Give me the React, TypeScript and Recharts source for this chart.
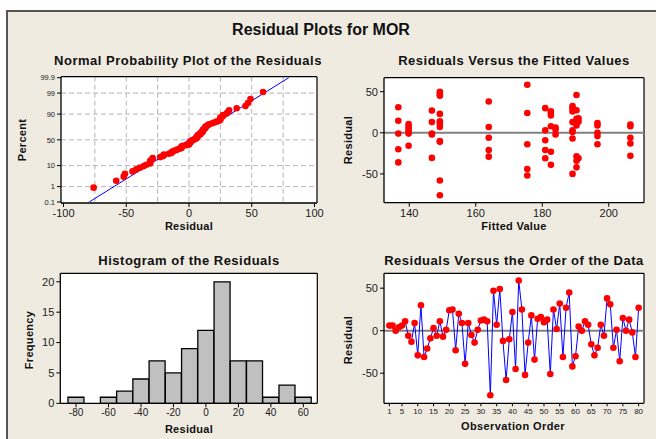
import React from 'react';
import { ComposedChart, Scatter, Line, Bar, XAxis, YAxis, ReferenceLine, CartesianGrid } from 'recharts';

// ---- data ----
const residuals = [
  6, 6, 0, 4, 6, 11, -6, -13, 9, -29,
  30, -31, -21, -9, 3, -6, 11, -7, 1, 24,
  25, -23, 20, 9, -39, 9, -5, -14, 1, 12,
  13, 11, -76, 47, 7, 49, -12, -58, -10, 22,
  -45, 59, 25, -52, -14, 18, -34, 14, 16, 10,
  13, -51, 25, 2, 32, -31, 27, 45, -42, -30,
  5, 0, 11, 7, -16, -29, -20, 7, -6, 38,
  31, -20, 1, -36, 15, 0, 13, -2, -31, 27,
];

const fittedValues = [
  136.7, 136.7, 136.7, 136.7, 136.7,
  139.8, 139.8, 139.8, 139.8, 139.8, 139.8,
  146.8, 146.8, 146.8, 146.8, 146.8,
  149.2, 149.2, 149.2, 149.2, 149.2, 149.2, 149.2, 149.2, 149.2, 149.2, 149.2,
  163.9, 163.9, 163.9, 163.9, 163.9,
  175.5, 175.5, 175.5, 175.5, 175.5,
  180.9, 180.9, 180.9, 180.9, 180.9,
  182.6, 182.6, 182.6, 182.6, 182.6, 182.6,
  184.0, 184.0, 184.0,
  189.1, 189.1, 189.1, 189.1, 189.1, 189.1, 189.1, 189.1,
  190.3, 190.3, 190.3, 190.3, 190.3, 190.3, 190.3, 190.3,
  190.9, 190.9, 190.9,
  196.6, 196.6, 196.6, 196.6, 196.6,
  206.5, 206.5, 206.5, 206.5, 206.5,
];
const fittedResiduals = [
  31, 14.6, -1, -20, -36,
  10.6, 7.5, 5, 2, -1, -15.7,
  27, 13, -1, -2, -30.5,
  50, 47, 45, 23, 14, 11, 7, -10, -11, -58, -76,
  38, 7, -6, -21, -29,
  58.5, 24, -14, -44, -52,
  30, 3, -9, -21, -31,
  26, 24, 21, 8, -23, -39,
  6.5, 4, -2,
  32.5, 30, 26, 13, 3, 1, -7, -50,
  46, 27.5, 17, 12.5, 9, -28.5, -34, -42,
  17.5, 13.5, -31,
  12, 9, 0, -4, -14,
  10, 8, -6, -13, -28,
];

const histBins = [-80, -70, -60, -50, -40, -30, -20, -10, 0, 10, 20, 30, 40, 50, 60];
const histCounts = [1, 0, 1, 2, 4, 7, 5, 9, 12, 20, 7, 7, 1, 3, 1];

const probTicks = [0.1, 1, 10, 50, 90, 99, 99.9];
const probGridX = [-75, -50, -25, 0, 25, 50, 75];
const probGridP = [1, 10, 50, 90, 99];
const probXTicks = [-100, -50, 0, 50, 100];
const fitLineX = [-79.5, 79.5];
const fitLineP = [0.1, 99.9];

const fittedXTicks = [140, 160, 180, 200];
const residTicks = [-50, 0, 50];
const histXTicks = [-80, -60, -40, -20, 0, 20, 40, 60];
const histYTicks = [0, 5, 10, 15, 20];
const orderTicks = [1, 5, 10, 15, 20, 25, 30, 35, 40, 45, 50, 55, 60, 65, 70, 75, 80];

// ---- probability scale transform ----
function probit(p: number): number {
  const a = [-3.969683028665376e1, 2.209460984245205e2, -2.759285104469687e2, 1.38357751867269e2, -3.066479806614716e1, 2.506628277459239];
  const b = [-5.447609879822406e1, 1.615858368580409e2, -1.556989798598866e2, 6.680131188771972e1, -1.328068155288572e1];
  const c = [-7.784894002430293e-3, -3.223964580411365e-1, -2.400758277161838, -2.549732539343734, 4.374664141464968, 2.938163982698783];
  const d = [7.784695709041462e-3, 3.224671290700398e-1, 2.445134137142996, 3.754408661907416];
  const pl = 0.02425;
  if (p < pl) {
    const q = Math.sqrt(-2 * Math.log(p));
    return (((((c[0] * q + c[1]) * q + c[2]) * q + c[3]) * q + c[4]) * q + c[5]) / ((((d[0] * q + d[1]) * q + d[2]) * q + d[3]) * q + 1);
  }
  if (p > 1 - pl) {
    const q = Math.sqrt(-2 * Math.log(1 - p));
    return -(((((c[0] * q + c[1]) * q + c[2]) * q + c[3]) * q + c[4]) * q + c[5]) / ((((d[0] * q + d[1]) * q + d[2]) * q + d[3]) * q + 1);
  }
  const q = p - 0.5;
  const r = q * q;
  return ((((((a[0] * r + a[1]) * r + a[2]) * r + a[3]) * r + a[4]) * r + a[5]) * q) / (((((b[0] * r + b[1]) * r + b[2]) * r + b[3]) * r + b[4]) * r + 1);
}

const n = residuals.length;
const probData = [...residuals].sort((x, y) => x - y).map((v, i) => ({ x: v, y: probit((i + 1 - 0.3) / (n + 0.4)) }));
const fitData = fitLineX.map((x, i) => ({ x, y: probit(fitLineP[i] / 100) }));
const probTickZ = probTicks.map((p) => probit(p / 100));
const fittedData = fittedValues.map((x, i) => ({ x, y: fittedResiduals[i] }));
const histData = histBins.map((bin, i) => ({ bin, count: histCounts[i] }));
const orderData = residuals.map((r, i) => ({ obs: i + 1, r }));

// ---- styles ----
const FONT = '"Liberation Sans", Arial, sans-serif';
const tickStyle = { fontSize: 10, fill: '#222', fontFamily: FONT };
const tickStyleL = { fontSize: 11, fill: '#222', fontFamily: FONT };
const axisLine = { stroke: '#000', strokeWidth: 1.3 };
const tickLine = { stroke: '#000' };
const RED = '#ff0000';

const dotShape = (props: any) => <circle cx={props.cx} cy={props.cy} r={3.3} fill={RED} />;
const noShape = () => <g />;

const txt = (s: string, x: number, y: number, size: number, rotate = false, spacing = 0) => (
  <div
    style={{
      position: 'absolute',
      left: x,
      top: y,
      transform: `translate(-50%, -50%)${rotate ? ' rotate(-90deg)' : ''}`,
      whiteSpace: 'nowrap',
      fontFamily: FONT,
      fontWeight: 'bold',
      fontSize: size,
      letterSpacing: spacing,
      color: '#111',
      lineHeight: 1,
    }}
  >
    {s}
  </div>
);

export default function App() {
  const probDom: [number, number] = [-3.14, 3.14];
  const fitDomY: [number, number] = [-85, 67];
  const fitDomX: [number, number] = [132.4, 210.6];
  const histDomX: [number, number] = [-89.7, 68.6];
  const histDomY: [number, number] = [0, 21.4];
  const ordDomX: [number, number] = [-0.7, 81.7];
  const ordDomY: [number, number] = [-85.4, 67.5];

  return (
    <div style={{ position: 'absolute', left: 0, top: 0, width: 656, height: 439, background: '#fff', overflow: 'hidden' }}>
      <div
        style={{
          position: 'absolute',
          left: 6,
          top: 10,
          width: 700,
          height: 480,
          background: '#EFEBE1',
          borderLeft: '2px solid #555',
          borderTop: '2px solid #555',
        }}
      />
      {txt('Residual Plots for MOR', 321, 30, 16)}
      {txt('Normal Probability Plot of the Residuals', 188, 60, 13, false, 0.5)}
      {txt('Residuals Versus the Fitted Values', 514, 60, 13, false, 0.5)}
      {txt('Histogram of the Residuals', 189, 260, 13, false, 0.5)}
      {txt('Residuals Versus the Order of the Data', 514, 260, 13, false, 0.5)}

      {/* Normal probability plot */}
      <div style={{ position: 'absolute', left: 0, top: 60 }}>
        <ComposedChart width={330} height={170} margin={{ top: 16.7, right: 13, bottom: 0, left: 0 }}>
          <CartesianGrid fill="#fff" stroke="#b4b4b4" strokeDasharray="5 3" verticalValues={probGridX} horizontalValues={probGridP.map((p) => probit(p / 100))} />
          <XAxis type="number" dataKey="x" domain={[-102, 102]} allowDataOverflow ticks={probXTicks} interval={0} tick={tickStyleL} tickLine={tickLine} axisLine={axisLine} tickSize={4} height={27} />
          <YAxis
            type="number"
            dataKey="y"
            domain={probDom}
            allowDataOverflow
            ticks={probTickZ}
            interval={0}
            tickFormatter={(v: number) => {
              let best = 0;
              probTickZ.forEach((z, i) => { if (Math.abs(z - v) < Math.abs(probTickZ[best] - v)) best = i; });
              return String(probTicks[best]);
            }}
            tick={{ ...tickStyle, fontSize: 7.5 }}
            tickLine={tickLine}
            axisLine={axisLine}
            tickSize={4}
            width={61}
          />
          <ReferenceLine y={probDom[1]} stroke="#000" strokeWidth={1.2} />
          <ReferenceLine x={102} stroke="#000" strokeWidth={1.2} />
          <Scatter data={fitData} line={{ stroke: '#0000ff', strokeWidth: 1 }} shape={noShape} isAnimationActive={false} />
          <Scatter data={probData} shape={dotShape} isAnimationActive={false} />
        </ComposedChart>
      </div>
      {txt('Percent', 22, 140, 11, true, 0.3)}
      {txt('Residual', 189, 226, 11, false, 0.3)}

      {/* Residuals vs fitted */}
      <div style={{ position: 'absolute', left: 330, top: 60 }}>
        <ComposedChart width={326} height={170} margin={{ top: 17.7, right: 12, bottom: 0, left: 0 }}>
          <CartesianGrid fill="#fff" horizontal={false} vertical={false} />
          <XAxis type="number" dataKey="x" domain={fitDomX} allowDataOverflow ticks={fittedXTicks} interval={0} tick={tickStyleL} tickLine={tickLine} axisLine={axisLine} tickSize={4} height={27.3} />
          <YAxis type="number" dataKey="y" domain={fitDomY} allowDataOverflow ticks={residTicks} interval={0} tick={tickStyleL} tickLine={tickLine} axisLine={axisLine} tickSize={4} width={54} />
          <ReferenceLine y={fitDomY[1]} stroke="#000" strokeWidth={1.2} />
          <ReferenceLine x={fitDomX[1]} stroke="#000" strokeWidth={1.2} />
          <ReferenceLine y={0} stroke="#808080" strokeWidth={2} />
          <Scatter data={fittedData} shape={dotShape} isAnimationActive={false} />
        </ComposedChart>
      </div>
      {txt('Residual', 348, 140, 11, true, 0.3)}
      {txt('Fitted Value', 514, 226, 11, false, 0.3)}

      {/* Histogram */}
      <div style={{ position: 'absolute', left: 0, top: 255 }}>
        <ComposedChart width={330} height={175} data={histData} barCategoryGap={0} barGap={0} margin={{ top: 18.3, right: 12.7, bottom: 0, left: 0 }}>
          <CartesianGrid fill="#fff" horizontal={false} vertical={false} />
          <XAxis type="number" dataKey="bin" domain={histDomX} allowDataOverflow ticks={histXTicks} interval={0} tick={tickStyle} tickLine={tickLine} axisLine={axisLine} tickSize={4} height={26.7} />
          <YAxis type="number" domain={histDomY} allowDataOverflow ticks={histYTicks} interval={0} tick={tickStyleL} tickLine={tickLine} axisLine={axisLine} tickSize={4} width={60.3} />
          <ReferenceLine y={histDomY[1]} stroke="#000" strokeWidth={1.2} />
          <ReferenceLine x={histDomX[1]} stroke="#000" strokeWidth={1.2} />
          <Bar dataKey="count" fill="#C0C0C0" stroke="#000" strokeWidth={1.3} isAnimationActive={false} />
        </ComposedChart>
      </div>
      {txt('Frequency', 29, 340, 11, true, 0.3)}
      {txt('Residual', 189, 429, 11, false, 0.3)}

      {/* Residuals vs order */}
      <div style={{ position: 'absolute', left: 330, top: 255 }}>
        <ComposedChart width={326} height={175} data={orderData} margin={{ top: 18.3, right: 12, bottom: 0, left: 0 }}>
          <CartesianGrid fill="#fff" horizontal={false} vertical={false} />
          <XAxis type="number" dataKey="obs" domain={ordDomX} allowDataOverflow ticks={orderTicks} interval={0} tick={{ ...tickStyle, fontSize: 8 }} tickLine={tickLine} axisLine={axisLine} tickSize={3} height={26.7} />
          <YAxis type="number" domain={ordDomY} allowDataOverflow ticks={residTicks} interval={0} tick={tickStyleL} tickLine={tickLine} axisLine={axisLine} tickSize={4} width={54} />
          <ReferenceLine y={ordDomY[1]} stroke="#000" strokeWidth={1.2} />
          <ReferenceLine x={ordDomX[1]} stroke="#000" strokeWidth={1.2} />
          <ReferenceLine y={0} stroke="#808080" strokeWidth={2} />
          <Line type="linear" dataKey="r" stroke="#0000ff" strokeWidth={1} dot={{ r: 3.3, fill: RED, stroke: RED, strokeWidth: 0 }} isAnimationActive={false} />
        </ComposedChart>
      </div>
      {txt('Residual', 348, 340, 11, true, 0.3)}
      {txt('Observation Order', 513, 426, 11, false, 0.4)}
    </div>
  );
}
